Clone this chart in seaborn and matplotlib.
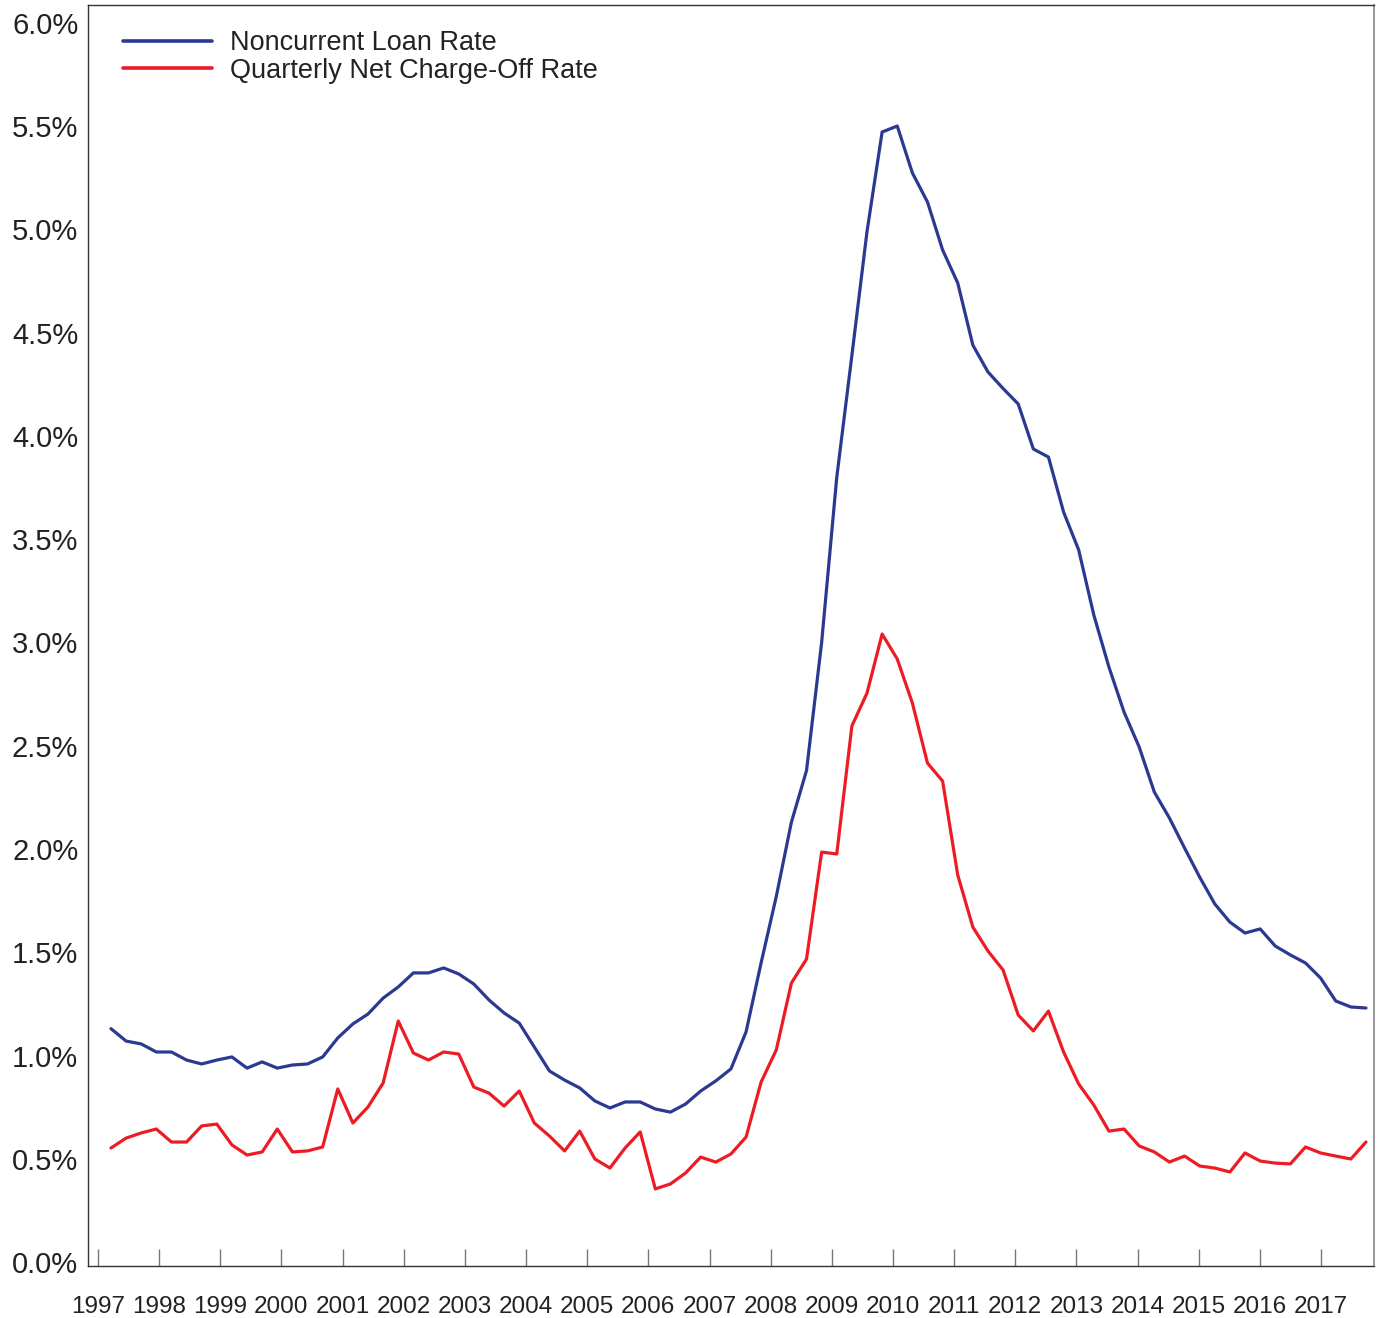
import numpy as np
import pandas as pd
import matplotlib
matplotlib.use("Agg")
import matplotlib.pyplot as plt
import seaborn as sns

# quarterly rates, 1997Q1 - 2017Q4 (percent)
years = list(range(1997, 2018))
noncurrent = [
    1.13, 1.07, 1.056, 1.017, 1.017, 0.978, 0.959, 0.978, 0.993, 0.939,
    0.969, 0.939, 0.954, 0.959, 0.993, 1.085, 1.153, 1.201, 1.278, 1.332,
    1.400, 1.400, 1.424, 1.395, 1.346, 1.269, 1.206, 1.157, 1.041, 0.925,
    0.881, 0.843, 0.780, 0.746, 0.775, 0.775, 0.741, 0.726, 0.765, 0.828,
    0.877, 0.935, 1.114, 1.45, 1.77, 2.13, 2.38, 3.00, 3.80, 4.39,
    4.99, 5.472, 5.501, 5.274, 5.133, 4.901, 4.741, 4.44, 4.31, 4.23,
    4.155, 3.937, 3.898, 3.632, 3.448, 3.133, 2.881, 2.663, 2.494, 2.276,
    2.15, 2.005, 1.864, 1.734, 1.646, 1.593, 1.613, 1.530, 1.487, 1.448,
    1.375, 1.264, 1.235, 1.230,
]
chargeoff = [
    0.552, 0.600, 0.625, 0.644, 0.581, 0.581, 0.659, 0.668, 0.567, 0.518,
    0.533, 0.644, 0.533, 0.538, 0.557, 0.838, 0.673, 0.751, 0.867, 1.167,
    1.012, 0.978, 1.017, 1.007, 0.847, 0.818, 0.755, 0.828, 0.673, 0.610,
    0.538, 0.634, 0.499, 0.455, 0.552, 0.630, 0.354, 0.378, 0.431, 0.508,
    0.484, 0.523, 0.605, 0.872, 1.027, 1.351, 1.467, 1.985, 1.976, 2.596,
    2.755, 3.041, 2.920, 2.707, 2.416, 2.329, 1.874, 1.622, 1.506, 1.414,
    1.196, 1.119, 1.215, 1.017, 0.862, 0.760, 0.634, 0.644, 0.562, 0.533,
    0.484, 0.513, 0.465, 0.455, 0.436, 0.528, 0.489, 0.479, 0.475, 0.557,
    0.528, 0.513, 0.499, 0.581,
]
labels = ["Noncurrent Loan Rate", "Quarterly Net Charge-Off Rate"]
colors = {labels[0]: "#2B3990", labels[1]: "#ED1C24"}

t = 1997 + np.arange(len(noncurrent)) / 4
df = pd.concat([
    pd.DataFrame({"t": t, "rate": noncurrent, "series": labels[0]}),
    pd.DataFrame({"t": t, "rate": chargeoff, "series": labels[1]}),
])

sns.set_style("white")
plt.rcParams["font.family"] = ["Liberation Sans", "DejaVu Sans"]

fig = plt.figure(figsize=(13.79, 13.18), dpi=100)
ax = fig.add_axes([0.0638, 0.0395, 0.9326, 0.9567])

sns.lineplot(data=df, x="t", y="rate", hue="series", palette=colors,
             linewidth=2.3, ax=ax)

ax.set_xlim(1996.62, 2017.883)
ax.set_ylim(-0.019, 6.087)

# year ticks sit at the year boundaries
ax.set_xticks(np.linspace(1996.785, 2017.007, len(years)))
ax.set_xticklabels([str(y) for y in years], fontsize=17.5)
ax.tick_params(axis="x", bottom=True, direction="in", length=12, width=1,
               color="#777777", pad=22, labelcolor="#222222")

yt = np.arange(0, 6.01, 0.5)
ax.set_yticks(yt)
ax.set_yticklabels([f"{v:.1f}%" for v in yt], fontsize=21)
ax.tick_params(axis="y", left=False, length=0, pad=7, labelcolor="#222222")

ax.set_xlabel("")
ax.set_ylabel("")
for side in ["top", "left", "bottom"]:
    ax.spines[side].set_color("#333333")
    ax.spines[side].set_linewidth(1)
ax.spines["right"].set_color("#888888")
ax.spines["right"].set_linewidth(1.2)

leg = ax.legend(loc="upper left", bbox_to_anchor=(0.027, 0.98), frameon=False,
                fontsize=19.5, handlelength=3.3, handletextpad=0.65,
                labelspacing=0.05, borderpad=0, borderaxespad=0)
for line in leg.get_lines():
    line.set_linewidth(2.6)
for txt in leg.get_texts():
    txt.set_color("#222222")

fig.savefig("out.png", dpi=100)
